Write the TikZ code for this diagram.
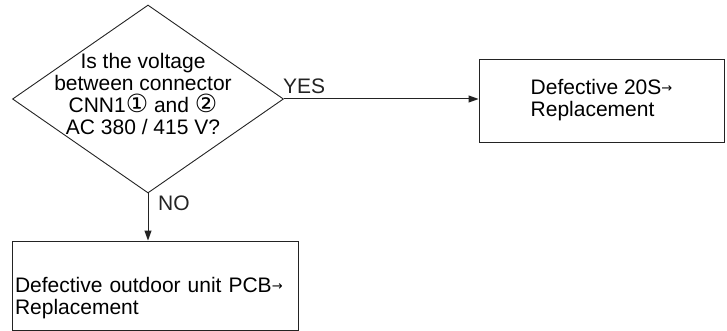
\documentclass[tikz,border=0pt]{standalone}
\usepackage{fontspec}
\setmainfont{Liberation Sans}
\newfontfamily\symfont{DejaVu Sans}
\usetikzlibrary{arrows.meta,positioning,calc,shapes.geometric}
\definecolor{InkGray}{RGB}{35,35,35}
\newcommand{\cnum}[1]{{\symfont\fontsize{25}{22}\selectfont\char"#1}}
\newcommand{\sarr}{{\symfont\fontsize{13}{13}\selectfont\raisebox{2pt}{→}}}

\begin{document}
\begin{tikzpicture}[
          x=1pt,y=-1pt,
          font=\fontsize{21}{22}\selectfont,
          dec/.style={diamond,draw=InkGray,line width=0.9pt,inner sep=0pt,
                      minimum width=271pt,minimum height=188pt},
          bx/.style={draw=InkGray,line width=0.9pt,align=left,inner sep=2pt},
          ar/.style={-{Triangle[length=10pt,width=7pt]},line width=1pt,InkGray},
          lbl/.style={inner sep=1pt,text=InkGray}
        ]
          \useasboundingbox (0,0) rectangle (727,331);
          \node(q)[dec] at (148,99){};
          \node(qt)[align=center,inner sep=0pt] at (143,94){Is the voltage\\between connector\\CNN1\cnum{2460} and \cnum{2461}\\AC 380 / 415 V?};
          \node(r)[bx,minimum width=245pt,minimum height=83pt] at (601.5,100.5){Defective 20S\sarr\\Replacement};
          \node(p)[bx,minimum width=286pt,minimum height=89pt,text width=280pt,text height=40pt] at (155,285.5){Defective outdoor unit PCB\sarr\\Replacement};

          \draw[ar] (q.east) -- (q.east -| r.west);
          \draw[ar] (q.south) -- (q.south |- p.north);
          \node(yes)[lbl,anchor=south west] at ($(q.east)+(-2,-4)$){YES};
          \node(no)[lbl,anchor=west] at ($(q.south)+(9,10)$){NO};
        \end{tikzpicture}
\end{document}
